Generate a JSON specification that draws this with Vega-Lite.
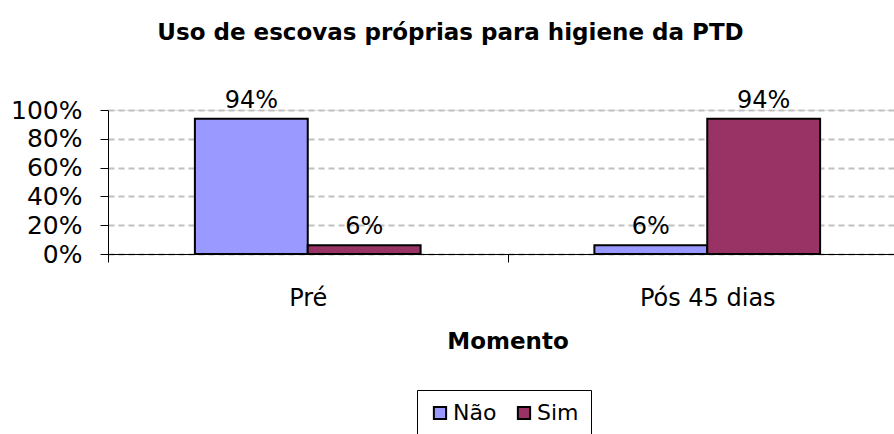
{
  "$schema": "https://vega.github.io/schema/vega-lite/v6.json",
  "autosize": {"type": "none"},
  "padding": {"left": 108, "top": 110, "right": 0, "bottom": 180},
  "width": 799,
  "height": 144,
  "background": "white",
  "title": {
    "text": "Uso de escovas próprias para higiene da PTD",
    "font": "DejaVu Sans",
    "fontSize": 23,
    "fontWeight": "bold",
    "color": "black",
    "anchor": "middle",
    "dx": -57,
    "offset": 44
  },
  "data": {
    "values": [
      {"momento": "Pré", "resposta": "Não", "valor": 0.94, "rotulo": "94%"},
      {"momento": "Pré", "resposta": "Sim", "valor": 0.06, "rotulo": "6%"},
      {"momento": "Pós 45 dias", "resposta": "Não", "valor": 0.06, "rotulo": "6%"},
      {"momento": "Pós 45 dias", "resposta": "Sim", "valor": 0.94, "rotulo": "94%"}
    ]
  },
  "encoding": {
    "x": {
      "field": "momento",
      "type": "nominal",
      "sort": ["Pré", "Pós 45 dias"],
      "scale": {"paddingInner": 0, "paddingOuter": 0},
      "axis": {
        "title": "Momento",
        "labelAngle": 0,
        "tickBand": "extent",
        "tickSize": 8,
        "tickColor": "black",
        "domainColor": "black",
        "labelPadding": 24,
        "labelFont": "DejaVu Sans",
        "labelFontSize": 24,
        "labelColor": "black",
        "titleFont": "DejaVu Sans",
        "titleFontSize": 23,
        "titleFontWeight": "bold",
        "titleColor": "black",
        "titlePadding": 20
      }
    },
    "xOffset": {
      "field": "resposta",
      "type": "nominal",
      "scale": {"paddingInner": 0, "paddingOuter": 0.77}
    },
    "y": {
      "field": "valor",
      "type": "quantitative",
      "scale": {"domain": [0, 1], "nice": false},
      "axis": {
        "title": null,
        "format": ".0%",
        "values": [0, 0.2, 0.4, 0.6, 0.8, 1],
        "grid": true,
        "gridColor": "#c0c0c0",
        "gridDash": [6, 4],
        "gridWidth": 2,
        "tickSize": 8,
        "tickColor": "black",
        "domainColor": "black",
        "labelPadding": 18,
        "labelFont": "DejaVu Sans",
        "labelFontSize": 25,
        "labelColor": "black"
      }
    }
  },
  "layer": [
    {
      "mark": {"type": "bar", "stroke": "black", "strokeWidth": 2},
      "encoding": {
        "color": {
          "field": "resposta",
          "type": "nominal",
          "scale": {"domain": ["Não", "Sim"], "range": ["#9999FF", "#993366"]},
          "legend": {
            "title": null,
            "orient": "none",
            "direction": "horizontal",
            "legendX": 309,
            "legendY": 280,
            "strokeColor": "black",
            "fillColor": "white",
            "padding": 12,
            "symbolType": "square",
            "symbolSize": 150,
            "symbolStrokeColor": "black",
            "symbolStrokeWidth": 2,
            "symbolOpacity": 1,
            "labelFont": "DejaVu Sans",
            "labelFontSize": 22,
            "labelColor": "black",
            "columnPadding": 16,
            "labelOffset": 2
          }
        }
      }
    },
    {
      "mark": {
        "type": "text",
        "baseline": "bottom",
        "dy": -6,
        "font": "DejaVu Sans",
        "fontSize": 24,
        "color": "black"
      },
      "encoding": {"text": {"field": "rotulo"}}
    }
  ]
}
